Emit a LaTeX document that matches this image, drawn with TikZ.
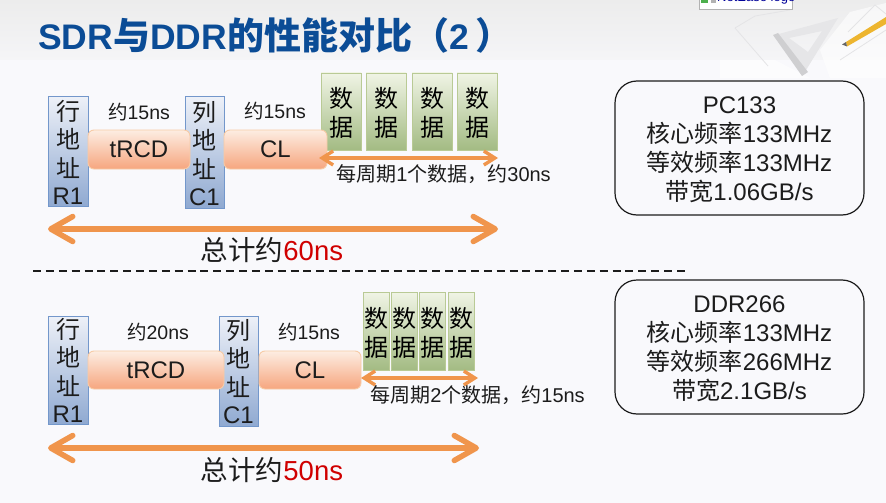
\documentclass[tikz,border=0pt]{standalone}
\usepackage{fontspec}
\setmainfont{Liberation Sans}
\newfontfamily\cjk{Noto Sans CJK SC}
\newfontfamily\cjkb{Noto Sans CJK SC Bold}
\newcommand{\zh}[1]{{\cjk #1}}
\newcommand{\zhb}[1]{{\fontsize{37}{38}\selectfont\cjkb #1}}
\usetikzlibrary{arrows.meta}
\definecolor{bgc}{HTML}{F9F9FC}
\definecolor{titlec}{HTML}{0B4C96}
\definecolor{arrowc}{HTML}{F0954C}
\definecolor{inkc}{HTML}{1C1C1C}
\definecolor{blueedge}{HTML}{7397CB}
\definecolor{bluetop}{HTML}{EEF1F8}
\definecolor{bluemid}{HTML}{C2D1E7}
\definecolor{bluebot}{HTML}{8FA9D1}
\definecolor{orgedge}{HTML}{F7CBA6}
\definecolor{orgtop}{HTML}{FDEDE2}
\definecolor{orgmid}{HTML}{FBD3B9}
\definecolor{orgbot}{HTML}{F6A67F}
\definecolor{grnedge}{HTML}{B9CA95}
\definecolor{grntop}{HTML}{F0F4E5}
\definecolor{grnmid}{HTML}{CBDAB1}
\definecolor{grnbot}{HTML}{A3BB83}
\definecolor{hdrtop}{HTML}{ECECEC}
\definecolor{hdrbot}{HTML}{F5F5F7}
\definecolor{redc}{HTML}{D00000}
\definecolor{sketch}{HTML}{E4E4E6}
\definecolor{squarec}{HTML}{CFCFD1}
\definecolor{squarel}{HTML}{E6E6E8}
\definecolor{pencilc}{HTML}{EDB52F}
\definecolor{tipc}{HTML}{666666}
\tikzset{
  addr/.style={draw=blueedge,line width=0.9pt,top color=bluetop,middle color=bluemid,bottom color=bluebot,inner sep=0pt,minimum width=40pt},
  addrtext/.style={inner sep=0pt,align=center,text=inkc,font=\fontsize{24}{27.5}\selectfont},
  timing/.style={draw=orgedge,line width=0.9pt,rounded corners=6pt,top color=orgtop,middle color=orgmid,bottom color=orgbot,inner sep=0pt,text=inkc,font=\fontsize{24}{28}\selectfont},
  datum/.style={draw=grnedge,line width=0.9pt,top color=grntop,middle color=grnmid,bottom color=grnbot,inner sep=0pt},
  datatext/.style={inner sep=0pt,align=center,text=black,yshift=-1.5pt,font=\fontsize{24}{29}\selectfont},
  info/.style={draw=inkc,line width=1.2pt,rounded corners=22pt,fill=bgc,inner sep=0pt},
  infotext/.style={inner sep=0pt,align=center,text=inkc,yshift=-2pt,font=\fontsize{24}{29}\selectfont},
  lab/.style={inner sep=0pt,text=inkc,font=\fontsize{19.5}{22}\selectfont},
  note/.style={inner sep=0pt,text=inkc,font=\fontsize{20}{22}\selectfont},
  total/.style={inner sep=0pt,text=inkc,font=\fontsize{27.5}{30}\selectfont},
  bigarrow/.style={draw=arrowc,line width=5.5pt,{Straight Barb[length=22pt,width=25pt,line width=5.5pt,round]}-{Straight Barb[length=22pt,width=25pt,line width=5.5pt,round]}},
  smallarrow/.style={draw=arrowc,line width=3.4pt,{Straight Barb[length=11pt,width=14pt,line width=3.4pt]}-{Straight Barb[length=11pt,width=14pt,line width=3.4pt]}},
}
\begin{document}
\begin{tikzpicture}[x=1pt,y=-1pt]
\useasboundingbox (0,0) rectangle (886,503);
\fill[bgc] (0,0) rectangle (886,503);
\shade[top color=hdrtop,bottom color=hdrbot] (0,0) rectangle (886,60);
% drafting sketch, top right
\begin{scope}
\clip (640,0) rectangle (886,78);
\fill[white,opacity=0.5] (720,60) -- (775,60) -- (810,78) -- (720,78) -- cycle;
\fill[white,opacity=0.6] (820,50) -- (850,12) -- (886,3) -- (886,78) -- (830,78) -- cycle;
\draw[sketch,line width=0.8pt] (735,28) -- (755,16) -- (790,10);
\draw[sketch,line width=0.8pt] (735,28) -- (768,66);
\draw[sketch,line width=0.8pt] (848,32) -- (875,5) -- (886,14);
\draw[sketch,line width=0.8pt] (840,60) -- (886,30);
\fill[squarel,even odd rule] (775,35) -- (838,18) -- (803,75) -- cycle (789,38) -- (822,31) -- (808,52) -- cycle;
\fill[squarec] (773,35) -- (778,33) -- (808,72) -- (802,76) -- cycle;
\fill[pencilc] (846,42) -- (886,17) -- (886,24) -- (847,46.5) -- cycle;
\fill[tipc] (842,44.5) -- (846,42) -- (847,46.5) -- cycle;
\end{scope}
% image placeholder
\begin{scope}
\clip (690,0) rectangle (800,10);
\draw[gray!60,fill=white,line width=0.8pt] (699,-12) rectangle (792,9);
\fill[green!55!black!70] (701,-3) rectangle (708,3);
\fill[gray!60] (711,-3) rectangle (716,3);
\node[anchor=west,inner sep=0pt,text=blue!60!black,font=\fontsize{13}{15}\selectfont] (logo) at (717,-2) {NetEase logo};
\end{scope}
% title
\node[anchor=west,inner sep=0pt,text=titlec,font=\fontsize{35.5}{38}\selectfont\bfseries] (title) at (38,35) {SDR\zhb{与}DDR\zhb{的性能对比（}2\kern7pt\zhb{）}};
% upper timing
\node[addr,minimum height=110pt,label={[addrtext,yshift=-1.5pt]center:{\zh{行}\\[1pt]\zh{地}\\[1pt]\zh{址}\\R1}}] (r1) at (68,151) {};
\node[addr,minimum height=112pt,minimum width=39pt,label={[addrtext,yshift=-1.5pt]center:{\zh{列}\\[1pt]\zh{地}\\[1pt]\zh{址}\\C1}}] (c1) at (204.5,152) {};
\node[timing,minimum width=102pt,minimum height=39pt] (trcd) at (139,149.5) {tRCD};
\foreach \n/\x in {d1/341,d2/386,d3/432,d4/477}
  \node[datum,minimum width=40pt,minimum height=77pt,label={[datatext]center:{\zh{数}\\\zh{据}}}] (\n) at (\x,111.5) {};
\node[timing,minimum width=103pt,minimum height=39pt] (cl) at (275.5,149.5) {CL};
\node[lab] (l1) at (139,112) {\zh{约}15ns};
\node[lab] (l2) at (275,111) {\zh{约}15ns};
\coordinate (sa) at (319,158);
\coordinate (sb) at (498,158);
\draw[smallarrow] (sa) -- (sb);
\node[note] (per1) at (443.5,174) {\zh{每周期}1\zh{个数据，约}30ns};
\coordinate (ba) at (48,229);
\coordinate (bb) at (498,229);
\draw[bigarrow] (ba) -- (bb);
\node[total] (t1) at (272,250) {\zh{总计约}{\color{redc}60ns}};
% divider
\coordinate (da) at (33,271);
\coordinate (db) at (685,271);
\draw[inkc,line width=1.2pt,dash pattern=on 8pt off 4.88pt] (da) -- (db);
% lower timing
\node[addr,minimum height=108pt,label={[addrtext,yshift=-0.5pt]center:{\zh{行}\\[1pt]\zh{地}\\[1pt]\zh{址}\\R1}}] (r2) at (68,370) {};
\node[addr,minimum height=110pt,minimum width=39pt,label={[addrtext,yshift=-0.5pt]center:{\zh{列}\\[1pt]\zh{地}\\[1pt]\zh{址}\\C1}}] (c2) at (238.5,371) {};
\node[timing,minimum width=136pt,minimum height=38pt] (trcd2) at (156,370) {tRCD};
\foreach \n/\x in {e1/376,e2/404.5,e3/432.5,e4/461}
  \node[datum,minimum width=26pt,minimum height=78pt,label={[datatext]center:{\zh{数}\\\zh{据}}}] (\n) at (\x,331) {};
\node[timing,minimum width=102pt,minimum height=38pt] (cl2) at (310,370) {CL};
\node[lab] (l3) at (158,332) {\zh{约}20ns};
\node[lab] (l4) at (309,332) {\zh{约}15ns};
\coordinate (sc) at (361,378);
\coordinate (sd) at (478,378);
\draw[smallarrow] (sc) -- (sd);
\node[note] (per2) at (477.5,395) {\zh{每周期}2\zh{个数据，约}15ns};
\coordinate (bc) at (48,448);
\coordinate (bd) at (479,448);
\draw[bigarrow] (bc) -- (bd);
\node[total] (t2) at (272,470) {\zh{总计约}{\color{redc}50ns}};
% info boxes
\node[info,minimum width=249pt,minimum height=134pt,label={[infotext]center:{PC133\\\zh{核心频率}133MHz\\\zh{等效频率}133MHz\\\zh{带宽}1.06GB/s}}] (pc) at (739.5,148) {};
\node[info,minimum width=249pt,minimum height=134pt,label={[infotext]center:{DDR266\\\zh{核心频率}133MHz\\\zh{等效频率}266MHz\\\zh{带宽}2.1GB/s}}] (ddr) at (739.5,347) {};
\end{tikzpicture}
\end{document}
